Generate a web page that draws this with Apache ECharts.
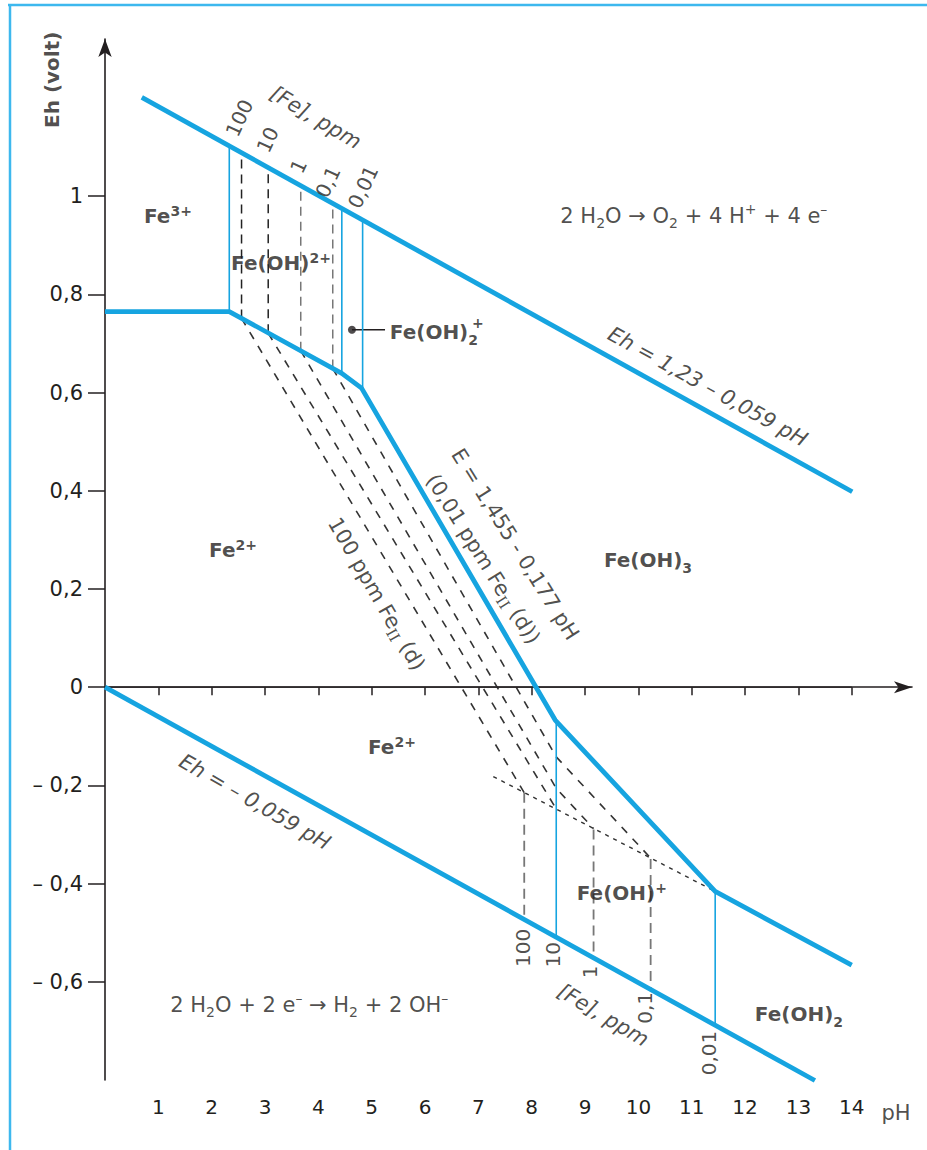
<!DOCTYPE html>
<html>
<head>
<meta charset="utf-8">
<script src="https://cdn.jsdelivr.net/npm/echarts@6.0.0/dist/echarts.min.js"></script>
<style>
  html, body { margin: 0; padding: 0; background: #fff; }
  #chart { width: 927px; height: 1150px; }
</style>
</head>
<body>
<div id="chart"></div>
<script>
const FONT = "'DejaVu Sans', 'Liberation Sans', Arial, sans-serif";
const INK = '#231f20';
const CYAN = '#16a4e0';

// axes
const xTickValues = [1, 2, 3, 4, 5, 6, 7, 8, 9, 10, 11, 12, 13, 14];
const yTickValues = [-0.6, -0.4, -0.2, 0, 0.2, 0.4, 0.6, 0.8, 1];
const yTickLabels = ['– 0,6', '– 0,4', '– 0,2', '0', '0,2', '0,4', '0,6', '0,8', '1'];

// water stability limits  [pH, Eh]
const upperWaterLine = [[0.69, 1.201], [14.01, 0.398]];
const lowerWaterLine = [[0, 0], [13.31, -0.801]];
const zeroLine = [[0, 0], [14, 0]];

// main iron boundaries (0,01 ppm)
const mainBoundary = [[0, 0.765], [2.33, 0.765], [4.44, 0.639], [4.81, 0.609],
  [8.44, -0.067], [11.44, -0.416], [14.0, -0.566]];

// thin cyan verticals
const solidVerticals = [
  [[2.33, 0.765], [2.33, 1.100]],
  [[4.44, 0.639], [4.44, 0.974]],
  [[4.83, 0.607], [4.83, 0.950]],
  [[8.46, -0.069], [8.46, -0.507]],
  [[11.44, -0.416], [11.44, -0.684]]
];

// [Fe] ppm verticals
const upperDashedDark = [
  [[2.56, 0.751], [2.56, 1.088]],
  [[3.06, 0.721], [3.06, 1.058]]
];
const upperDashedGrey = [
  [[3.67, 0.685], [3.67, 1.021]],
  [[4.27, 0.649], [4.27, 0.985]]
];
const lowerDashedGrey = [
  [[7.86, -0.215], [7.86, -0.470]],
  [[9.16, -0.290], [9.16, -0.551]],
  [[10.23, -0.350], [10.23, -0.616]]
];

// Fe2+ / Fe(OH)3 and Fe(OH)+ / Fe(OH)3 lines for 100, 10, 1, 0,1 ppm
const diagonalDashed = [
  [[2.56, 0.751], [7.86, -0.215]],
  [[3.06, 0.721], [8.46, -0.248]],
  [[3.67, 0.685], [8.46, -0.206], [9.16, -0.288]],
  [[4.27, 0.649], [8.46, -0.142], [10.23, -0.348]]
];
const dottedLine = [[7.28, -0.182], [11.44, -0.416]];
const leaderLine = [[4.63, 0.728], [5.25, 0.728]];
const leaderDot = [[4.63, 0.728]];

function seg(data, color, width, type) {
  return {
    type: 'line', data: data, symbol: 'none', silent: true, clip: false,
    lineStyle: { color: color, width: width, type: type || 'solid', cap: 'butt' },
    z: type ? 3 : 4
  };
}

const rich = {
  b: { fontFamily: FONT, fontSize: 20, fontWeight: 'bold', color: INK, lineHeight: 24 },
  bsup: { fontFamily: FONT, fontSize: 14, fontWeight: 'bold', color: INK, verticalAlign: 'top' },
  bsub: { fontFamily: FONT, fontSize: 14, fontWeight: 'bold', color: INK, verticalAlign: 'bottom' },
  bs: { fontFamily: FONT, fontSize: 20, fontWeight: 'bold', color: INK, lineHeight: 30 },
  n: { fontFamily: FONT, fontSize: 21, color: INK, lineHeight: 28 },
  t: { fontFamily: FONT, fontSize: 20, color: INK },
  sup: { fontFamily: FONT, fontSize: 14, color: INK, verticalAlign: 'top' },
  sub: { fontFamily: FONT, fontSize: 14, color: INK, verticalAlign: 'bottom' },
  rn: { fontFamily: "'DejaVu Serif', 'Liberation Serif', serif", fontSize: 15, color: INK, verticalAlign: 'bottom' }
};

function note(pos, text, rotate, extra) {
  return {
    value: pos,
    label: Object.assign({ formatter: text, rotate: rotate || 0 }, extra || {})
  };
}

const notes = [
  note([1.18, 0.960], '{b|Fe}{bsup|3+}'),
  note([3.30, 0.864], '{b|Fe(OH)}{bsup|2+}'),
  note([5.34, 0.724], '{bs|Fe(OH)}{bsub|2}', 0, { align: 'left' }),
  note([6.88, 0.742], '{bsup|+}', 0, { align: 'left' }),
  note([11.04, 0.959], '{n|2 H}{sub|2}{n|O \u2192 O}{sub|2}{n| + 4 H}{sup|+}{n| + 4 e}{sup|\u2013}'),
  note([11.30, 0.612], '{n|Eh = 1,23 \u2013 0,059 pH}', -29, { fontStyle: 'italic' }),
  note([7.69, 0.291], '{n|E = 1,455 - 0,177 pH}', -58),
  note([7.09, 0.261], '{n|(0,01 ppm Fe}{rn|II}{n| (d))}', -58),
  note([2.40, 0.279], '{b|Fe}{bsup|2+}'),
  note([10.18, 0.259], '{bs|Fe(OH)}{bsub|3}'),
  note([5.09, 0.190], '{n|100 ppm Fe}{rn|II}{n| (d)}', -60),
  note([5.38, -0.122], '{b|Fe}{bsup|2+}'),
  note([2.81, -0.234], '{n|Eh = \u2013 0,059 pH}', -30, { fontStyle: 'italic' }),
  note([3.83, -0.647], '{n|2 H}{sub|2}{n|O + 2 e}{sup|\u2013}{n| \u2192 H}{sub|2}{n| + 2 OH}{sup|\u2013}'),
  note([9.69, -0.419], '{b|Fe(OH)}{bsup|+}'),
  note([13.01, -0.666], '{bs|Fe(OH)}{bsub|2}'),
  note([3.95, 1.160], '{n|[Fe], ppm}', -31, { fontStyle: 'italic' }),
  note([9.34, -0.668], '{n|[Fe], ppm}', -31, { fontStyle: 'italic' }),
  note([2.52, 1.159], '{t|100}', 65),
  note([3.05, 1.115], '{t|10}', 65),
  note([3.63, 1.061], '{t|1}', 65),
  note([4.18, 1.029], '{t|0,1}', 65),
  note([4.84, 1.019], '{t|0,01}', 65),
  note([7.84, -0.531], '{t|100}', 90),
  note([8.40, -0.545], '{t|10}', 90),
  note([9.09, -0.580], '{t|1}', 90),
  note([10.13, -0.653], '{t|0,1}', 90),
  note([11.33, -0.745], '{t|0,01}', 90),
  note([14.83, -0.867], '{n|pH}'),
  note([-0.99, 1.237], '{b|Eh (volt)}', 90)
];

const series = [];
series.push(seg(zeroLine, INK, 1.4));
upperDashedDark.forEach(d => series.push(seg(d, '#222', 1.5, [9, 6])));
upperDashedGrey.forEach(d => series.push(seg(d, '#777', 1.5, [9, 6])));
lowerDashedGrey.forEach(d => series.push(seg(d, '#777', 1.8, [10, 6])));
diagonalDashed.forEach(d => series.push(seg(d, '#333', 1.6, [8, 8])));
series.push(seg(dottedLine, '#333', 1.4, [4, 5]));
series.push(seg(leaderLine, INK, 1.5));
solidVerticals.forEach(d => series.push(seg(d, CYAN, 1.6)));
series.push(seg(upperWaterLine, CYAN, 4.8));
series.push(seg(lowerWaterLine, CYAN, 4.8));
series.push(seg(mainBoundary, CYAN, 4.8));
series.push({
  type: 'scatter', data: leaderDot, symbol: 'circle', symbolSize: 8, silent: true,
  itemStyle: { color: INK }, z: 5
});
series.push({
  type: 'scatter', data: notes, symbolSize: 0, silent: true, clip: false, z: 6,
  label: { show: true, position: 'inside', align: 'center', verticalAlign: 'middle', rich: rich }
});

const chart = echarts.init(document.getElementById('chart'), null, { renderer: 'svg' });
chart.setOption({
  animation: false,
  backgroundColor: '#fff',
  graphic: [
    { type: 'line', shape: { x1: 8, y1: 5, x2: 927, y2: 5 }, style: { stroke: '#3db8ee', lineWidth: 2.5 } },
    { type: 'line', shape: { x1: 10, y1: 4, x2: 10, y2: 1150 }, style: { stroke: '#3db8ee', lineWidth: 2.5 } }
  ],
  grid: { left: 105, right: 15, top: 39, bottom: 70 },
  xAxis: {
    type: 'value', min: 0, max: 15.13, interval: 1,
    splitLine: { show: false },
    axisLine: { lineStyle: { color: INK, width: 1.6 }, symbol: ['none', 'arrow'], symbolSize: [9, 18] },
    axisTick: { customValues: xTickValues, length: 8, lineStyle: { color: INK, width: 1.5 } },
    axisLabel: { customValues: xTickValues, margin: 17, fontFamily: FONT, fontSize: 20, color: INK }
  },
  yAxis: {
    type: 'value', min: -0.8, max: 1.32, interval: 0.2,
    splitLine: { show: false },
    axisLine: { lineStyle: { color: INK, width: 1.6 }, symbol: ['none', 'arrow'], symbolSize: [10, 18] },
    axisTick: { customValues: yTickValues, length: 17, lineStyle: { color: INK, width: 1.5 } },
    axisLabel: {
      customValues: yTickValues, margin: 22, fontFamily: FONT, fontSize: 21, color: INK,
      formatter: v => yTickLabels[yTickValues.findIndex(t => Math.abs(t - v) < 1e-6)]
    }
  },
  series: series
});
</script>
</body>
</html>
